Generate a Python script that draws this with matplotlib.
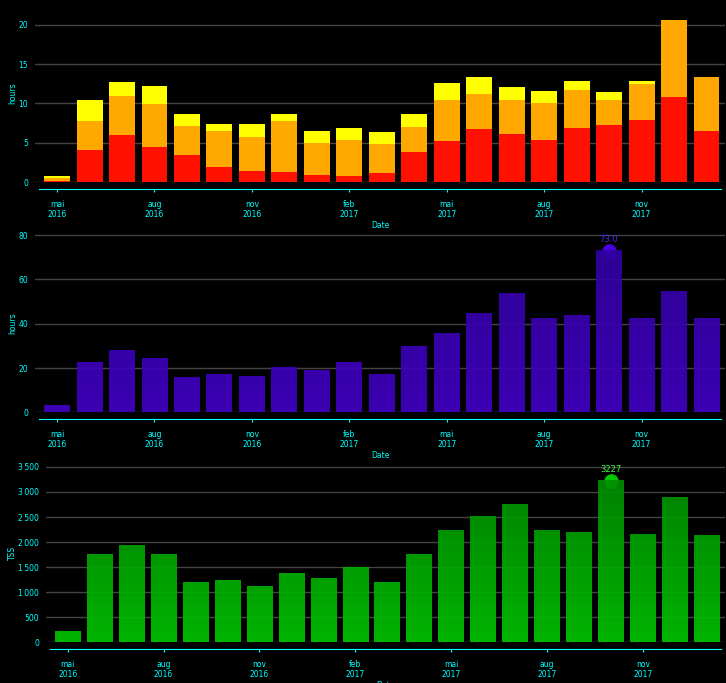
import numpy as np
import matplotlib
matplotlib.use("Agg")
import matplotlib.pyplot as plt
from matplotlib.colors import LinearSegmentedColormap
from matplotlib.ticker import FuncFormatter

# monthly values, mai 2016 -> jan 2018
red = [0.15, 4.1, 6.0, 4.45, 3.45, 1.95, 1.45, 1.3, 0.9, 0.8, 1.2,
       3.85, 5.25, 6.75, 6.1, 5.35, 6.85, 7.25, 7.9, 10.8, 6.5]
orange = [0.4, 3.65, 4.9, 5.45, 3.7, 4.55, 4.3, 6.45, 4.05, 4.55, 3.65,
          3.15, 5.2, 4.45, 4.3, 4.7, 4.8, 3.15, 4.55, 9.75, 6.85]
yellow = [0.25, 2.65, 1.8, 2.3, 1.5, 0.9, 1.65, 0.9, 1.55, 1.5, 1.5,
          1.65, 2.15, 2.15, 1.75, 1.5, 1.15, 1.0, 0.4, 0.0, 0.0]
hours = [2.8, 22.2, 27.7, 24.1, 15.5, 16.9, 16.0, 20.0, 18.6, 22.2, 16.9,
         29.5, 35.3, 44.3, 53.3, 42.0, 43.5, 73.0, 42.4, 54.2, 42.0]
tss = [206, 1743, 1923, 1743, 1184, 1224, 1104, 1363, 1264, 1483, 1184,
       1743, 2222, 2502, 2741, 2222, 2182, 3227, 2142, 2881, 2122]

tick_pos = [0, 3, 6, 9, 12, 15, 18]
tick_labels = ["mai\n2016", "aug\n2016", "nov\n2016", "feb\n2017",
               "mai\n2017", "aug\n2017", "nov\n2017"]

CYAN = "#00ffff"
x = np.arange(len(hours))


def style(ax, ylabel, ymax):
    ax.set_facecolor("black")
    ax.set_xlim(-0.68, 20.57)
    ax.set_ylim(0, ymax * 1.1)
    for s in ["top", "right", "left"]:
        ax.spines[s].set_visible(False)
    ax.spines["bottom"].set_color(CYAN)
    ax.spines["bottom"].set_position(("outward", 5))
    ax.spines["bottom"].set_bounds(-0.56, 20.45)
    ax.grid(axis="y", color="#444444", lw=1)
    ax.set_axisbelow(True)
    ax.set_xticks(tick_pos)
    ax.set_xticklabels(tick_labels)
    ax.tick_params(axis="x", colors=CYAN, length=2.5, labelsize=5.5, pad=5)
    ax.tick_params(axis="y", colors=CYAN, length=0, labelsize=5.5, pad=5)
    ax.set_ylabel(ylabel, color=CYAN, fontsize=5.5, labelpad=1)
    ax.set_xlabel("Date", color=CYAN, fontsize=5.5, labelpad=1.5)


def gradient_bars(ax, vals, c0, c1, ymax):
    # vertical gradient tied to the axes height
    cmap = LinearSegmentedColormap.from_list("g", [c0, c1])
    for xi, v in zip(x, vals):
        grad = np.linspace(0, v / ymax, 128).reshape(-1, 1)
        ax.imshow(grad, extent=(xi - 0.4, xi + 0.4, 0, v), origin="lower",
                  aspect="auto", cmap=cmap, vmin=0, vmax=1, alpha=0.92,
                  zorder=2)


def mark_max(ax, vals, color, text_color, fmt):
    i = int(np.argmax(vals))
    ax.plot(x[i], vals[i], "o", color=color, ms=9.5, zorder=1.5)
    ax.annotate(fmt.format(vals[i]), (x[i], vals[i]), xytext=(0, 5),
                textcoords="offset points", ha="center", va="bottom",
                color=text_color, fontsize=6, zorder=3)


fig = plt.figure(figsize=(7.26, 6.83), dpi=100, facecolor="black")

# top: stacked hours
ax1 = fig.add_axes([35 / 726, 0.733, 690 / 726, 0.2611])
tot = np.array(red) + np.array(orange) + np.array(yellow)
ax1.bar(x, red, width=0.8, color="#ff1000", zorder=2)
ax1.bar(x, orange, width=0.8, bottom=red, color="#ffa800", zorder=2)
ax1.bar(x, yellow, width=0.8, bottom=np.array(red) + np.array(orange),
        color="#ffff00", zorder=2)
style(ax1, "hours", tot.max())
ax1.set_yticks([0, 5, 10, 15, 20])

# middle: total hours
ax2 = fig.add_axes([35 / 726, 0.3963, 690 / 726, 0.2605])
ymax2 = max(hours) * 1.1
gradient_bars(ax2, hours, "#4200c4", "#3000a0", ymax2)
mark_max(ax2, hours, "#4a00e0", "#5a20ff", "{:.1f}")
style(ax2, "hours", max(hours))
ax2.set_yticks([0, 20, 40, 60, 80])

# bottom: TSS
ax3 = fig.add_axes([46 / 726, 0.0596, 679 / 726, 0.2604])
ymax3 = max(tss) * 1.1
gradient_bars(ax3, tss, "#00c400", "#008800", ymax3)
mark_max(ax3, tss, "#00c800", "#40ff40", "{:d}")
style(ax3, "TSS", max(tss))
ax3.set_yticks(np.arange(0, 3501, 500))
ax3.yaxis.set_major_formatter(
    FuncFormatter(lambda v, p: f"{v:,.0f}".replace(",", "\u202f")))

fig.savefig("out.png", dpi=100, facecolor="black")
